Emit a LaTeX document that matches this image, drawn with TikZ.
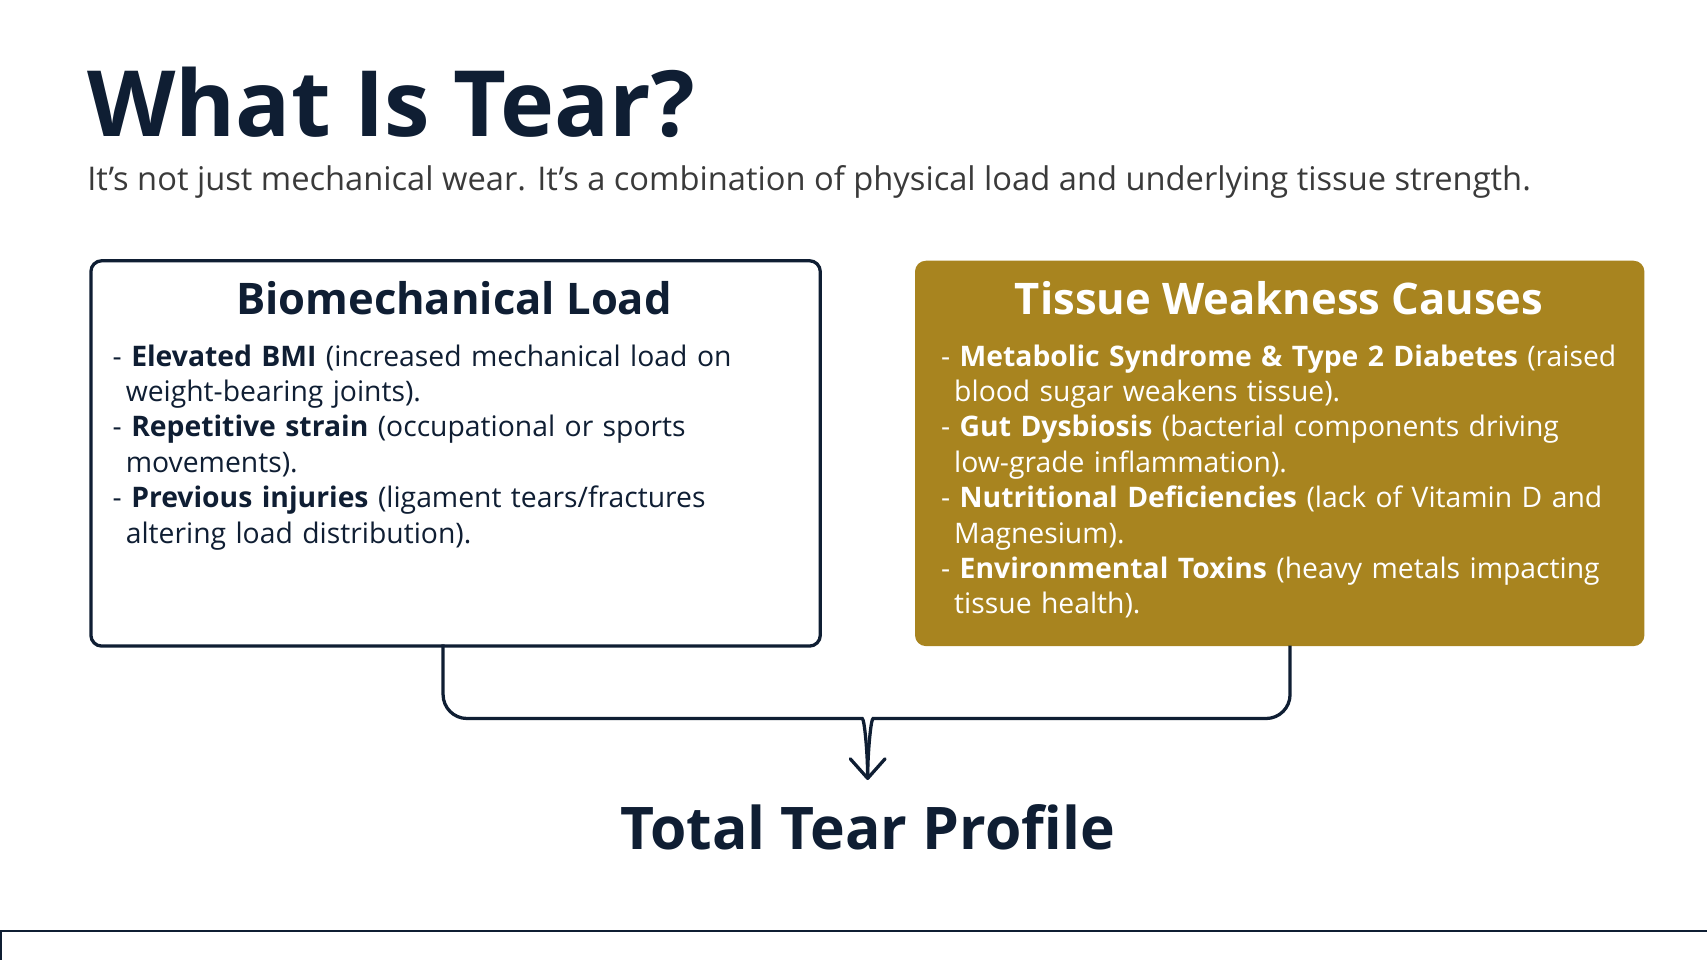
\documentclass[tikz,border=0pt]{standalone}
\usepackage{fontspec}
\setmainfont{Open Sans}
\usetikzlibrary{positioning,arrows.meta}
\definecolor{navy}{HTML}{0F1E33}
\definecolor{gold}{HTML}{A8841F}
\definecolor{greytxt}{HTML}{3A3A3A}
\tikzset{
  card/.style={rounded corners=10pt, line width=3pt, minimum width=670pt, minimum height=354pt, anchor=north west},
  cardtitle/.style={font=\fontsize{40}{46}\selectfont\bfseries, anchor=north},
  cardtext/.style={font=\fontsize{26}{32.5}\selectfont, text width=600pt, align=left, anchor=north west},
  link/.style={line width=3pt, draw=navy, rounded corners=22pt}
}
\begin{document}
\begin{tikzpicture}[x=1pt,y=-1pt]
                    \useasboundingbox (0,0) rectangle (1568,882);
                    \node (title) [anchor=base west, text=navy, font=\fontsize{84}{90}\selectfont\bfseries, inner sep=0] at (80,125) {What Is Tear?};
                    \node (sub) [anchor=base west, text=greytxt, font=\fontsize{30}{36}\selectfont, inner sep=0] at (80,175) {It's not just mechanical wear. It's a combination of physical load and underlying tissue strength.};

                    \node (LOAD) [card, draw=navy, fill=white] at (82,238) {};
                    \node (WEAK) [card, draw=none, fill=gold] at (839,238) {};

                    \node (loadtitle) [cardtitle, text=navy] at (417,255) {Biomechanical Load};
                    \node (weaktitle) [cardtitle, text=white] at (1175,255) {Tissue Weakness Causes};

                    \node (loadtext) [cardtext, text=navy] at (100,313) {%
                    - \textbf{Elevated BMI} (increased mechanical load on\\\hspace*{12pt}weight-bearing joints).\\
                    - \textbf{Repetitive strain} (occupational or sports\\\hspace*{12pt}movements).\\
                    - \textbf{Previous injuries} (ligament tears/fractures\\\hspace*{12pt}altering load distribution).};
                    \node (weaktext) [cardtext, text=white, text width=640pt] at (861,313) {%
                    - \textbf{Metabolic Syndrome \& Type 2 Diabetes} (raised\\\hspace*{12pt}blood sugar weakens tissue).\\
                    - \textbf{Gut Dysbiosis} (bacterial components driving\\\hspace*{12pt}low-grade inflammation).\\
                    - \textbf{Nutritional Deficiencies} (lack of Vitamin D and\\\hspace*{12pt}Magnesium).\\
                    - \textbf{Environmental Toxins} (heavy metals impacting\\\hspace*{12pt}tissue health).};

                    \node (TOTAL) [text=navy, font=\fontsize{54}{60}\selectfont\bfseries] at (797,760) {Total Tear Profile};

                    \coordinate (loadfoot) at (407,592);
                    \coordinate (weakfoot) at (1185,593);
                    \coordinate (tip) at (797,715);
                    \draw[link] (loadfoot) -- (407,660) -- (770,660) to[out=0,in=90] (tip);
                    \draw[link] (weakfoot) -- (1185,660) -- (824,660) to[out=180,in=90] (tip);
                    \draw[line width=3pt, draw=navy, line cap=round, line join=round] (781,697) -- (tip) -- (813,697);

                    \draw[line width=2pt, draw=navy] (0,855) -- (1568,855);
                    \draw[line width=2pt, draw=navy] (1,855) -- (1,882);
                \end{tikzpicture}
\end{document}
